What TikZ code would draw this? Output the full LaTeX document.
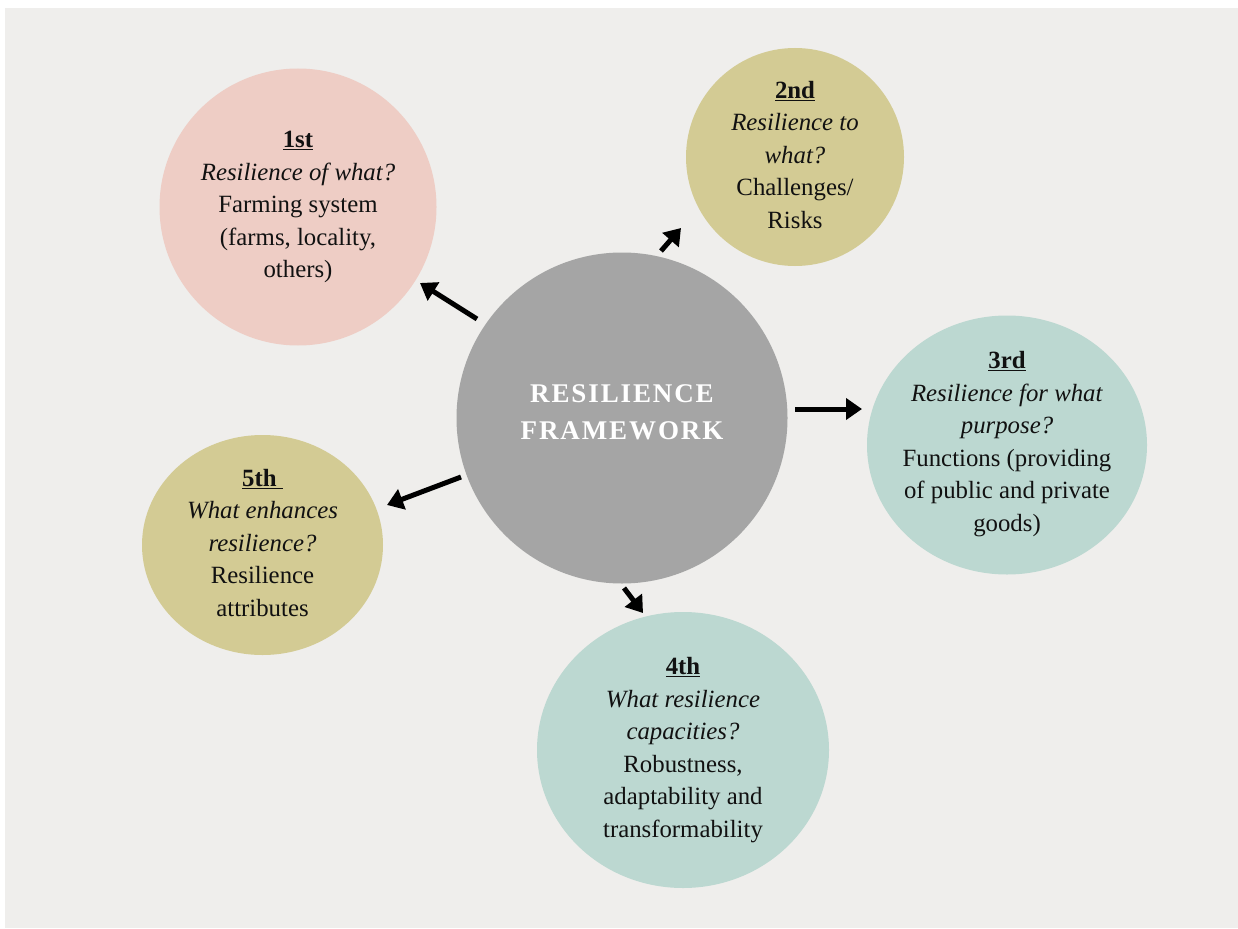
\documentclass[tikz,border=0pt]{standalone}
\usepackage{fontspec}
\setmainfont{Liberation Serif}
\newfontfamily\titlefont[LetterSpace=7]{Liberation Serif}
\usetikzlibrary{arrows.meta,shapes.geometric,calc}
\definecolor{bgc}{HTML}{EFEEEC}
\definecolor{pinkc}{HTML}{EECDC5}
\definecolor{olivec}{HTML}{D3CB94}
\definecolor{tealc}{HTML}{BCD8D1}
\definecolor{grayc}{HTML}{A5A5A5}
\definecolor{txt}{HTML}{111111}
\begin{document}
\begin{tikzpicture}[x=1pt,y=-1pt,
  blob/.style={circle,inner sep=0pt,draw=none},
  oval/.style={ellipse,inner sep=0pt,draw=none},
  lbl/.style={align=center,inner sep=0pt,text=txt,font=\fontsize{24.8}{32.5}\selectfont},
  arr/.style={line width=5pt,draw=black,-{Triangle[length=16pt,width=21pt]}}]
\useasboundingbox (0,0) rectangle (1238,928);
\fill[bgc] (5,8) rectangle (1238,928);
% circles
\node[blob,fill=grayc,minimum size=331pt] (c) at (622,418) {};
\node[blob,fill=pinkc,minimum size=277pt] (n1) at (298,207) {};
\node[blob,fill=olivec,minimum size=218pt] (n2) at (795,157) {};
\node[oval,fill=tealc,minimum width=280pt,minimum height=259pt] (n3) at (1007,445) {};
\node[oval,fill=tealc,minimum width=292pt,minimum height=276pt] (n4) at (683,750) {};
\node[oval,fill=olivec,minimum width=241pt,minimum height=220pt] (n5) at (262.5,545) {};
% texts
\node[align=center,inner sep=0pt,text=white,font=\fontsize{27}{37}\selectfont] (title) at ($(c)+(0,-6)$) {\titlefont\bfseries RESILIENCE\\\titlefont\bfseries FRAMEWORK};
\node[lbl] (t1) at ($(n1)+(0,0)$) {\underline{\textbf{1st}}\\\textit{Resilience of what?}\\Farming system\\(farms, locality,\\others)};
\node[lbl] (t2) at ($(n2)+(0,-2)$) {\underline{\textbf{2nd}}\\\textit{Resilience to}\\\textit{what?}\\Challenges/\\Risks};
\node[lbl] (t3) at ($(n3)+(0,-1)$) {\underline{\textbf{3rd}}\\\textit{Resilience for what}\\\textit{purpose?}\\Functions (providing\\of public and private\\goods)};
\node[lbl] (t4) at ($(n4)+(0,0)$) {\underline{\textbf{4th}}\\\textit{What resilience}\\\textit{capacities?}\\Robustness,\\adaptability and\\transformability};
\node[lbl] (t5) at ($(n5)+(0,-2)$) {\underline{\textbf{5th\ }}\\\textit{What enhances}\\\textit{resilience?}\\Resilience\\attributes};
% arrows
\draw[arr] ($(c)+(-145,-99)$) -- ($(n1)+(122,76)$);
\draw[arr] ($(c)+(39,-167)$) -- ($(n2)+(-114,71)$);
\draw[arr] ($(c)+(173,-9)$) -- ($(n3)+(-145,-36)$);
\draw[arr] ($(c)+(2,170)$) -- ($(n4)+(-40,-137)$);
\draw[arr] ($(c)+(-161,59)$) -- ($(n5)+(124.5,-40)$);
\end{tikzpicture}
\end{document}
